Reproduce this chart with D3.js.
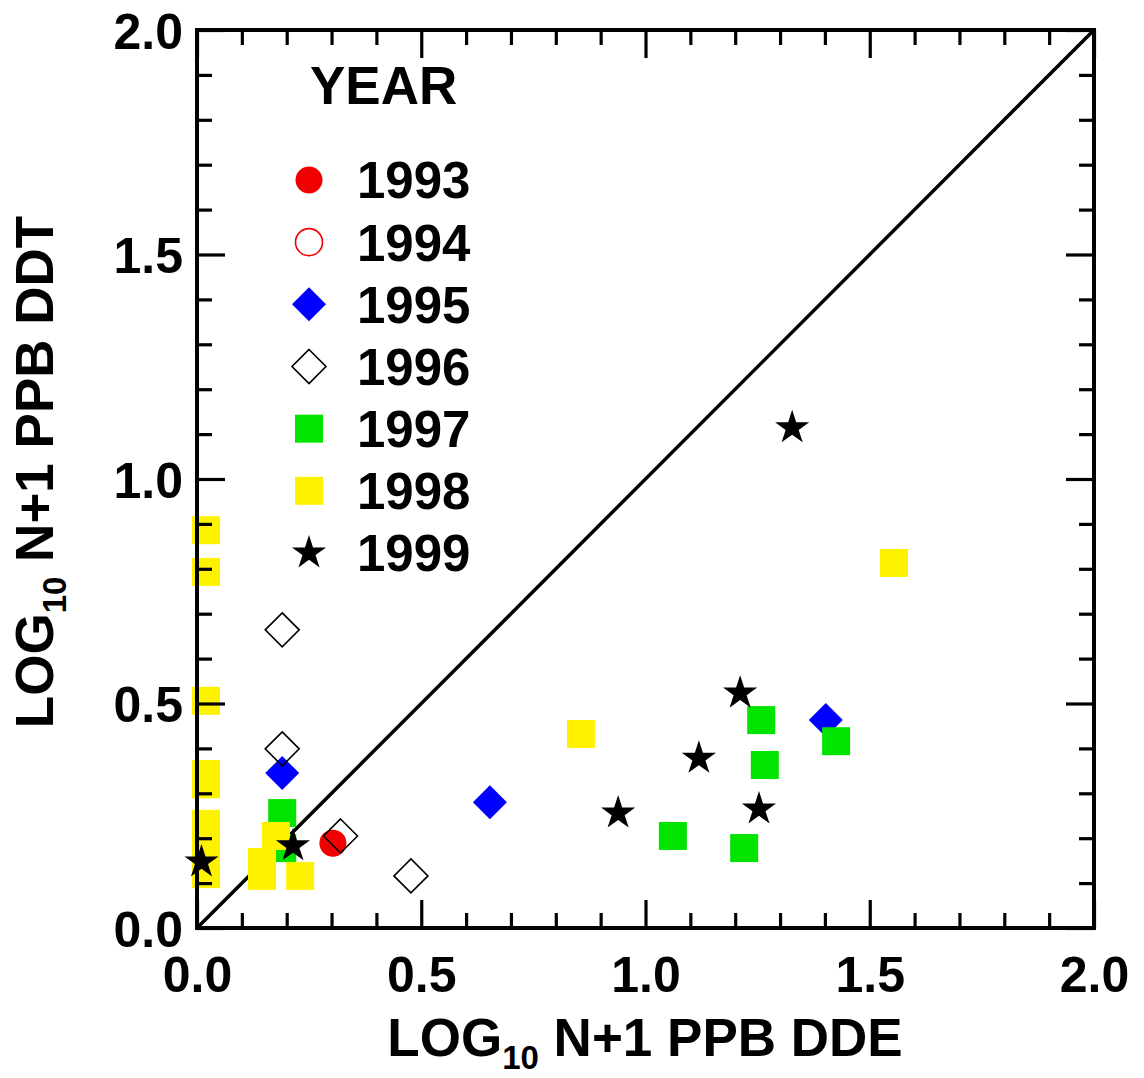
<!DOCTYPE html>
<html><head><meta charset="utf-8">
<script src="https://cdn.jsdelivr.net/npm/d3@7"></script>
<style>
body{margin:0;background:#fff;}
text{font-family:"Liberation Sans",Arial,sans-serif;font-weight:bold;fill:#000;}
</style></head>
<body><svg id="c" width="1144" height="1078"></svg>
<script>
// ---- data ----
const years = ["1993","1994","1995","1996","1997","1998","1999"];
const dde1993 = [0.303];
const ddt1993 = [0.189];
const dde1994 = [];
const ddt1994 = [];
const dde1995 = [0.19, 0.653, 1.402];
const ddt1995 = [0.345, 0.28, 0.463];
const dde1996 = [0.19, 0.19, 0.32, 0.477];
const ddt1996 = [0.664, 0.399, 0.205, 0.116];
const dde1997 = [0.19, 0.19, 1.061, 1.22, 1.258, 1.266, 1.425];
const ddt1997 = [0.256, 0.178, 0.205, 0.178, 0.463, 0.363, 0.416];
const dde1998 = [0.02, 0.02, 0.02, 0.02, 0.02, 0.02, 0.02, 0.02, 0.145, 0.145, 0.176, 0.23, 0.856, 1.554];
const ddt1998 = [0.886, 0.793, 0.506, 0.343, 0.32, 0.232, 0.174, 0.12, 0.147, 0.116, 0.205, 0.116, 0.432, 0.813];
const dde1999 = [0.01, 0.214, 0.939, 1.119, 1.211, 1.253, 1.327];
const ddt1999 = [0.147, 0.183, 0.256, 0.378, 0.523, 0.265, 1.114];
const majorTicks = [0, 0.5, 1.0, 1.5, 2.0];
const minorTicks = [0.1,0.2,0.3,0.4,0.6,0.7,0.8,0.9,1.1,1.2,1.3,1.4,1.6,1.7,1.8,1.9];
const xTitle = ["LOG", "10", " N+1 PPB DDE"];
const yTitle = ["LOG", "10", " N+1 PPB DDT"];
const legendTitle = "YEAR";

const seriesX = [dde1993, dde1994, dde1995, dde1996, dde1997, dde1998, dde1999];
const seriesY = [ddt1993, ddt1994, ddt1995, ddt1996, ddt1997, ddt1998, ddt1999];

// ---- styles ----
const styles = [
  {shape:"circle", fill:"#f00000", stroke:"none"},
  {shape:"circle", fill:"none", stroke:"#f00000"},
  {shape:"diamond", fill:"#0000ff", stroke:"none"},
  {shape:"diamond", fill:"none", stroke:"#000"},
  {shape:"square", fill:"#00e400", stroke:"none"},
  {shape:"square", fill:"#fff200", stroke:"none"},
  {shape:"star", fill:"#000", stroke:"none"}
];
function symPath(shape){
  if(shape==="circle") return d3.symbol(d3.symbolCircle, Math.PI*13.5*13.5)();
  if(shape==="square") return d3.symbol(d3.symbolSquare, 28*28)();
  if(shape==="diamond"){ const h=17; return `M0,${-h}L${h},0L0,${h}L${-h},0Z`; }
  if(shape==="star") return d3.symbol(d3.symbolStar, 362)();
}

const svg = d3.select("#c");
const x = d3.scaleLinear().domain([0,2]).range([197,1094]);
const y = d3.scaleLinear().domain([0,2]).range([928,30]);
const fmt = d3.format(".1f");

// diagonal 1:1 line
svg.append("line").attr("x1",x(0)).attr("y1",y(0)).attr("x2",x(2)).attr("y2",y(2))
  .attr("stroke","#000").attr("stroke-width",3.5);

// points
years.forEach((yr,i)=>{
  const st = styles[i];
  const pts = seriesX[i].map((v,j)=>[v, seriesY[i][j]]);
  svg.append("g").selectAll("path").data(pts).join("path")
    .attr("d", symPath(st.shape))
    .attr("transform", d=>`translate(${x(d[0])},${y(d[1])})`)
    .attr("fill", st.fill).attr("stroke", st.stroke).attr("stroke-width",1.6);
});

// axes (ticks inward)
function styleAxis(g){
  g.select(".domain").remove();
  g.selectAll(".tick line").attr("stroke","#000").attr("stroke-width",3.2);
}
svg.append("g").attr("transform",`translate(0,${y(0)})`)
  .call(d3.axisBottom(x).tickValues(minorTicks).tickSize(-15).tickFormat(""))
  .call(styleAxis);
svg.append("g").attr("transform",`translate(0,${y(0)})`)
  .call(d3.axisBottom(x).tickValues(majorTicks).tickSize(-28).tickPadding(28).tickFormat(fmt))
  .call(styleAxis)
  .selectAll("text").attr("font-size",50).attr("font-family","Liberation Sans, Arial, sans-serif").attr("font-weight","bold");
svg.append("g").attr("transform",`translate(0,${y(2)})`)
  .call(d3.axisTop(x).tickValues(minorTicks).tickSize(-15).tickFormat(""))
  .call(styleAxis);
svg.append("g").attr("transform",`translate(0,${y(2)})`)
  .call(d3.axisTop(x).tickValues(majorTicks).tickSize(-28).tickFormat(""))
  .call(styleAxis);
svg.append("g").attr("transform",`translate(${x(0)},0)`)
  .call(d3.axisLeft(y).tickValues(minorTicks).tickSize(-15).tickFormat(""))
  .call(styleAxis);
svg.append("g").attr("transform",`translate(${x(0)},0)`)
  .call(d3.axisLeft(y).tickValues(majorTicks).tickSize(-28).tickPadding(14).tickFormat(fmt))
  .call(styleAxis)
  .selectAll("text").attr("font-size",50).attr("dy","0.36em").attr("font-family","Liberation Sans, Arial, sans-serif").attr("font-weight","bold");
svg.append("g").attr("transform",`translate(${x(2)},0)`)
  .call(d3.axisRight(y).tickValues(minorTicks).tickSize(-15).tickFormat(""))
  .call(styleAxis);
svg.append("g").attr("transform",`translate(${x(2)},0)`)
  .call(d3.axisRight(y).tickValues(majorTicks).tickSize(-28).tickFormat(""))
  .call(styleAxis);

// frame
svg.append("rect").attr("x",x(0)).attr("y",y(2)).attr("width",x(2)-x(0)).attr("height",y(0)-y(2))
  .attr("fill","none").attr("stroke","#000").attr("stroke-width",4);

// axis titles
function title(g, parts){
  const t = g.append("text").attr("text-anchor","middle").attr("font-size",53);
  t.append("tspan").text(parts[0]);
  t.append("tspan").text(parts[1]).attr("font-size",33).attr("dy",13);
  t.append("tspan").text(parts[2]).attr("dy",-13);
}
title(svg.append("g").attr("transform","translate(645,1056)"), xTitle);
title(svg.append("g").attr("transform","translate(53,472) rotate(-90)"), yTitle);

// legend
svg.append("text").attr("x",310).attr("y",104).attr("font-size",53).text(legendTitle);
const rowY = d3.scaleLinear().domain([0,6]).range([180,553]);
years.forEach((yr,i)=>{
  const st = styles[i];
  svg.append("path").attr("d", symPath(st.shape))
    .attr("transform", `translate(309,${rowY(i)})`)
    .attr("fill", st.fill).attr("stroke", st.stroke).attr("stroke-width",1.6);
  svg.append("text").attr("x",357).attr("y",rowY(i)).attr("dy","0.36em").attr("font-size",51).text(yr);
});
</script></body></html>
